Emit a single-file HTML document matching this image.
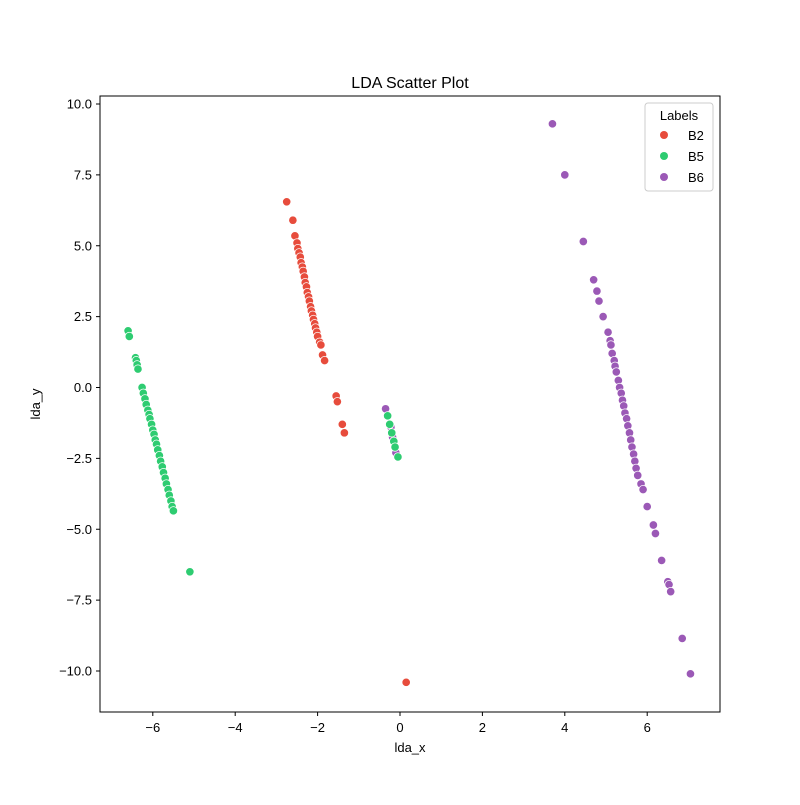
<!DOCTYPE html>
<html><head><meta charset="utf-8"><style>
body{margin:0;background:#fff;}
svg text{font-family:"Liberation Sans","DejaVu Sans",sans-serif;fill:#000;}
</style></head><body>
<svg id="chart" width="800" height="800" viewBox="0 0 800 800" xmlns="http://www.w3.org/2000/svg">
<rect width="800" height="800" fill="#fff"/>
<text x="410" y="88" font-size="16" text-anchor="middle">LDA Scatter Plot</text>
<g id="points"></g>
<rect x="100" y="96" width="620" height="616" fill="none" stroke="#000" stroke-width="1"/>
<g id="xticks"></g><g id="yticks"></g>
<text x="410" y="752" font-size="13" text-anchor="middle">lda_x</text>
<text transform="translate(40,404) rotate(-90)" font-size="13" text-anchor="middle">lda_y</text>
<g>
<rect x="645" y="103" width="68" height="88" rx="3" fill="#fff" fill-opacity="0.8" stroke="#ccc"/>
<text x="679" y="120" font-size="13" text-anchor="middle">Labels</text>
<g><circle cx="664" cy="135" r="4" fill="#e74c3c"/><text x="688" y="140" font-size="13">B2</text></g>
<g><circle cx="664" cy="156" r="4" fill="#2ecc71"/><text x="688" y="161" font-size="13">B5</text></g>
<g><circle cx="664" cy="177" r="4" fill="#9b59b6"/><text x="688" y="182" font-size="13">B6</text></g>
</g>
</svg>
<script>
const xTicks=[-6,-4,-2,0,2,4,6];
const yTicks=[10,7.5,5,2.5,0,-2.5,-5,-7.5,-10];
const yTickLabels=["10.0","7.5","5.0","2.5","0.0","\u22122.5","\u22125.0","\u22127.5","\u221210.0"];
const b2X=[-2.75,-2.6,-2.55,-2.5,-2.48,-2.45,-2.42,-2.4,-2.37,-2.35,-2.32,-2.3,-2.27,-2.25,-2.22,-2.2,-2.17,-2.15,-2.12,-2.1,-2.07,-2.05,-2.02,-2.0,-1.95,-1.92,-1.88,-1.83,-1.55,-1.52,-1.4,-1.35,0.15];
const b2Y=[6.55,5.9,5.35,5.1,4.9,4.75,4.6,4.4,4.25,4.1,3.9,3.7,3.55,3.35,3.2,3.05,2.85,2.7,2.55,2.4,2.25,2.1,1.95,1.8,1.6,1.5,1.15,0.95,-0.3,-0.5,-1.3,-1.6,-10.4];
const b6X=[3.7,4.0,4.45,4.7,4.78,4.83,4.93,5.05,5.1,5.12,5.15,5.2,5.22,5.25,5.3,5.33,5.37,5.4,5.43,5.46,5.5,5.53,5.57,5.6,5.63,5.67,5.7,5.73,5.77,5.85,5.9,6.0,6.15,6.2,6.35,6.5,6.53,6.57,6.85,7.05,-0.35,-0.22,-0.18,-0.1];
const b6Y=[9.3,7.5,5.15,3.8,3.4,3.05,2.5,1.95,1.65,1.5,1.2,0.95,0.75,0.55,0.25,0.0,-0.2,-0.45,-0.65,-0.9,-1.1,-1.35,-1.6,-1.85,-2.1,-2.35,-2.6,-2.85,-3.1,-3.4,-3.6,-4.2,-4.85,-5.15,-6.1,-6.85,-6.95,-7.2,-8.85,-10.1,-0.75,-1.4,-1.75,-2.3];
const b5X=[-6.6,-6.57,-6.42,-6.4,-6.38,-6.36,-6.26,-6.23,-6.19,-6.16,-6.12,-6.09,-6.07,-6.03,-6.0,-5.97,-5.94,-5.91,-5.88,-5.84,-5.81,-5.77,-5.74,-5.7,-5.67,-5.63,-5.6,-5.56,-5.53,-5.5,-5.1,-0.3,-0.25,-0.2,-0.15,-0.12,-0.05];
const b5Y=[2.0,1.8,1.05,0.95,0.8,0.65,0.0,-0.2,-0.4,-0.6,-0.8,-0.95,-1.1,-1.3,-1.5,-1.65,-1.85,-2.0,-2.2,-2.4,-2.6,-2.8,-3.0,-3.2,-3.4,-3.6,-3.8,-4.0,-4.2,-4.35,-6.5,-1.0,-1.3,-1.6,-1.9,-2.1,-2.45];

const NS="http://www.w3.org/2000/svg";
function sx(v){return 400+v*41.2;}
function sy(v){return 387.5-v*28.35;}
const pts=document.getElementById('points');
function draw(xs,ys,color,name){
  for(let i=0;i<xs.length;i++){
    const c=document.createElementNS(NS,'circle');
    c.setAttribute('cx',sx(xs[i]));c.setAttribute('cy',sy(ys[i]));
    c.setAttribute('r',4.2);c.setAttribute('fill',color);
    c.setAttribute('stroke','#fff');c.setAttribute('stroke-width',0.75);
    
    
    pts.appendChild(c);
  }
}
draw(b2X,b2Y,'#e74c3c','point-b2');
draw(b6X,b6Y,'#9b59b6','point-b6');
draw(b5X,b5Y,'#2ecc71','point-b5');
const xg=document.getElementById('xticks');
xTicks.forEach(t=>{
  const x=sx(t);
  const l=document.createElementNS(NS,'line');
  l.setAttribute('x1',x);l.setAttribute('x2',x);l.setAttribute('y1',712);l.setAttribute('y2',716);l.setAttribute('stroke','#000');
  
  
  xg.appendChild(l);
  const tx=document.createElementNS(NS,'text');
  tx.setAttribute('x',x);tx.setAttribute('y',732);tx.setAttribute('font-size','13');tx.setAttribute('text-anchor','middle');
  tx.textContent=(t<0?'\u2212'+(-t):String(t));
  
  
  xg.appendChild(tx);
});
const yg=document.getElementById('yticks');
yTicks.forEach((t,i)=>{
  const y=sy(t);
  const l=document.createElementNS(NS,'line');
  l.setAttribute('x1',96);l.setAttribute('x2',100);l.setAttribute('y1',y);l.setAttribute('y2',y);l.setAttribute('stroke','#000');
  
  
  yg.appendChild(l);
  const tx=document.createElementNS(NS,'text');
  tx.setAttribute('x',92);tx.setAttribute('y',y+4.5);tx.setAttribute('font-size','13');tx.setAttribute('text-anchor','end');
  tx.textContent=yTickLabels[i];
  
  
  yg.appendChild(tx);
});
</script>
</body></html>
